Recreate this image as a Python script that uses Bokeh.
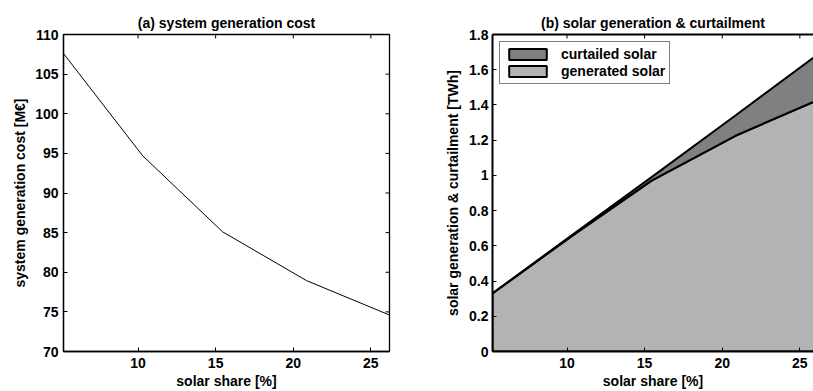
import math
from bokeh.plotting import figure
from bokeh.layouts import row
from bokeh.models import LinearAxis, FixedTicker, Legend, LegendItem, Range1d
from bokeh.embed import file_html
from bokeh.resources import INLINE

# ---- data ----
solar_share = [5.2, 10.3, 15.45, 20.85, 26.2]
system_cost = [107.6, 94.7, 85.1, 78.95, 74.6]
total_solar = [0.33, 0.66, 0.99, 1.34, 1.69]
generated_solar = [0.33, 0.655, 0.97, 1.225, 1.43]

x_ticks = [10, 15, 20, 25]
cost_ticks = [70, 75, 80, 85, 90, 95, 100, 105, 110]
twh_ticks = [0, 0.2, 0.4, 0.6, 0.8, 1, 1.2, 1.4, 1.6, 1.8]
twh_labels = ["0", "0.2", "0.4", "0.6", "0.8", "1", "1.2", "1.4", "1.6", "1.8"]

X1 = (5.2, 26.2)
Y1 = (70, 110)
X2 = (5.2, 25.88)
Y2 = (0, 1.8)

FONT = "Liberation Sans"
FS = "14px"


def style_axis(ax, ticks, lw, standoff=5):
    ax.ticker = FixedTicker(ticks=ticks)
    ax.major_tick_in = 4
    ax.major_tick_out = 0
    ax.minor_tick_line_color = None
    ax.major_tick_line_color = "black"
    ax.major_tick_line_width = 1
    ax.axis_line_color = "black"
    ax.axis_line_width = lw
    ax.major_label_text_font = FONT
    ax.major_label_text_font_style = "bold"
    ax.major_label_text_color = "black"
    ax.major_label_text_font_size = FS
    ax.major_label_standoff = standoff
    ax.axis_label_text_font = FONT
    ax.axis_label_text_font_style = "bold"
    ax.axis_label_text_font_size = FS
    ax.axis_label_text_color = "black"


def style_title(p):
    p.title.align = "center"
    p.title.text_font = FONT
    p.title.text_font_size = FS
    p.title.text_font_style = "bold"
    p.title.text_color = "black"
    p.title.standoff = 8


def inner_ticks(p, xt, yt, xr, yr, right=True):
    # tick marks pointing into the frame along top (and right) edges
    p.ray(xt, [yr[1]] * len(xt), length=4, length_units="screen",
          angle=-math.pi / 2, line_color="black", line_width=1)
    if right:
        p.ray([xr[1]] * len(yt), yt, length=4, length_units="screen",
              angle=math.pi, line_color="black", line_width=1)


# ---- panel (a) ----
p1 = figure(width=440, height=391, output_backend="svg", toolbar_location=None,
            x_range=Range1d(*X1), y_range=Range1d(*Y1),
            min_border_left=63, min_border_right=51, min_border_top=34,
            min_border_bottom=40, title="(a) system generation cost")
style_title(p1)
p1.grid.visible = False
p1.outline_line_color = "black"
p1.outline_line_width = 1.3
p1.outline_line_alpha = 1
p1.line(solar_share, system_cost, line_color="black", line_width=1)
inner_ticks(p1, x_ticks, cost_ticks, X1, Y1)

style_axis(p1.xaxis[0], x_ticks, 1.3, standoff=6)
p1.xaxis[0].axis_label = "solar share [%]"
p1.xaxis[0].axis_label_standoff = 2
style_axis(p1.yaxis[0], cost_ticks, 1.3, standoff=5)
p1.yaxis[0].axis_label = "system generation cost [M€]"
p1.yaxis[0].axis_label_standoff = 4

# ---- panel (b) ----
p2 = figure(width=373, height=391, output_backend="svg", toolbar_location=None,
            x_range=Range1d(*X2), y_range=Range1d(*Y2),
            min_border_left=52, min_border_right=0, min_border_top=34,
            min_border_bottom=40, title="(b) solar generation & curtailment")
style_title(p2)
p2.grid.visible = False
p2.outline_line_color = None

zeros = [0] * len(solar_share)
gen_x = solar_share + solar_share[::-1]
gen_y = generated_solar + zeros[::-1]
cur_x = solar_share + solar_share[::-1]
cur_y = total_solar + generated_solar[::-1]

r_gen = p2.patch(gen_x, gen_y, fill_color="#b3b3b3", line_color="black", line_width=2)
r_cur = p2.patch(cur_x, cur_y, fill_color="#808080", line_color="black", line_width=2)
inner_ticks(p2, x_ticks, twh_ticks, X2, Y2, right=False)

style_axis(p2.xaxis[0], x_ticks, 2, standoff=6)
p2.xaxis[0].axis_label = "solar share [%]"
p2.xaxis[0].axis_label_standoff = 2
style_axis(p2.yaxis[0], twh_ticks, 2, standoff=4)
p2.yaxis[0].major_label_overrides = dict(zip(twh_ticks, twh_labels))
p2.yaxis[0].axis_label = "solar generation & curtailment [TWh]"
p2.yaxis[0].axis_label_standoff = 5

# top frame line of panel (b): axis line only, no ticks or labels
top2 = LinearAxis(ticker=FixedTicker(ticks=[]), axis_line_color="black",
                  axis_line_width=2, major_tick_line_color=None,
                  minor_tick_line_color=None, major_label_standoff=0)
p2.add_layout(top2, "above")

legend = Legend(items=[LegendItem(label="curtailed solar", renderers=[r_cur]),
                       LegendItem(label="generated solar", renderers=[r_gen])],
                location="top_left", margin=7, padding=4, spacing=1,
                glyph_width=47, glyph_height=14, label_standoff=10,
                border_line_color="black", border_line_width=1.5,
                label_text_font=FONT, label_text_font_style="bold",
                label_text_font_size=FS, label_text_color="black",
                background_fill_alpha=1.0)
p2.add_layout(legend, "center")

layout = row(p1, p2)
open("out.html", "w").write(file_html(layout, INLINE))
